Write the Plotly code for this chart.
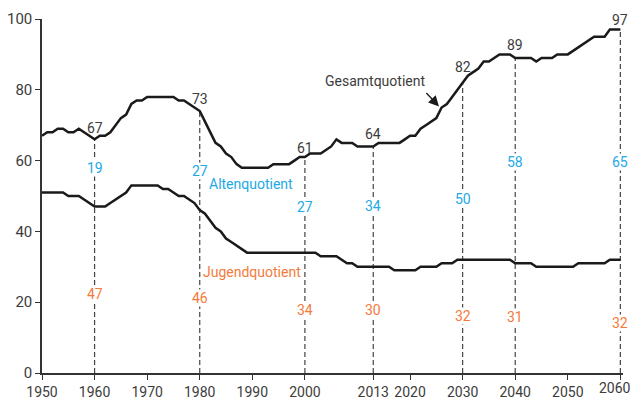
import plotly.graph_objects as go

# ---------------- data ----------------
years = list(range(1950, 2061))

gesamt = [
    67, 68, 68, 69, 69, 68, 68, 69, 68, 67,   # 1950-1959
    66, 67, 67, 68, 70, 72, 73, 76, 77, 77,   # 1960-1969
    78, 78, 78, 78, 78, 78, 77, 77, 76, 75,   # 1970-1979
    74, 71, 68, 65, 64, 62, 61, 59, 58, 58,   # 1980-1989
    58, 58, 58, 58, 59, 59, 59, 59, 60, 61,   # 1990-1999
    61, 62, 62, 62, 63, 64, 66, 65, 65, 65,   # 2000-2009
    64, 64, 64, 64, 65, 65, 65, 65, 65, 66,   # 2010-2019
    67, 67, 69, 70, 71, 72, 75, 76, 78, 80,   # 2020-2029
    82, 84, 85, 86, 88, 88, 89, 90, 90, 90,   # 2030-2039
    89, 89, 89, 89, 88, 89, 89, 89, 90, 90,   # 2040-2049
    90, 91, 92, 93, 94, 95, 95, 95, 97, 97,   # 2050-2059
    97,                                       # 2060
]

jugend = [
    51, 51, 51, 51, 51, 50, 50, 50, 49, 48,   # 1950-1959
    47, 47, 47, 48, 49, 50, 51, 53, 53, 53,   # 1960-1969
    53, 53, 53, 52, 52, 51, 50, 50, 49, 48,   # 1970-1979
    46, 45, 43, 41, 40, 38, 37, 36, 35, 34,   # 1980-1989
    34, 34, 34, 34, 34, 34, 34, 34, 34, 34,   # 1990-1999
    34, 34, 34, 33, 33, 33, 33, 32, 31, 31,   # 2000-2009
    30, 30, 30, 30, 30, 30, 30, 29, 29, 29,   # 2010-2019
    29, 29, 30, 30, 30, 30, 31, 31, 31, 32,   # 2020-2029
    32, 32, 32, 32, 32, 32, 32, 32, 32, 32,   # 2030-2039
    31, 31, 31, 31, 30, 30, 30, 30, 30, 30,   # 2040-2049
    30, 30, 31, 31, 31, 31, 31, 31, 32, 32,   # 2050-2059
    32,                                       # 2060
]

marked_years = [1960, 1980, 2000, 2013, 2030, 2040, 2060]
gesamt_labels = [67, 73, 61, 64, 82, 89, 97]
alten_labels = [19, 27, 27, 34, 50, 58, 65]
jugend_labels = [47, 46, 34, 30, 32, 31, 32]

# label placement (y in data units)
gesamt_label_y = [69.3, 77.5, 63.6, 67.6, 86.5, 92.7, 99.8]
alten_label_y = [57.9, 57.2, 47.0, 47.2, 49.2, 59.7, 59.7]
jugend_label_y = [22.4, 21.3, 17.9, 17.9, 16.1, 15.8, 14.1]

x_tickvals = [1950, 1960, 1970, 1980, 1990, 2000, 2013, 2020, 2030, 2040, 2050, 2060]
x_ticktext = ["1950", "1960", "1970", "1980", "1990", "2000", "2013", "2020", "2030", "2040", "2050", "2060"]
y_tickvals = [0, 20, 40, 60, 80, 100]

# ---------------- style ----------------
FONT = "Roboto, Liberation Sans, sans-serif"
DARK = "#3c3c3c"
BLUE = "#22a9e6"
ORANGE = "#f47a3c"


def f(size, color):
    return dict(family=FONT, size=size, color=color)


fig = go.Figure()
fig.add_trace(go.Scatter(x=years, y=gesamt, mode="lines",
                         line=dict(color="#1a1a1a", width=2.5), hoverinfo="skip"))
fig.add_trace(go.Scatter(x=years, y=jugend, mode="lines",
                         line=dict(color="#1a1a1a", width=2.5), hoverinfo="skip"))

# dashed verticals
for yr in marked_years:
    top = gesamt[years.index(yr)]
    fig.add_shape(type="line", xref="x", yref="y", x0=yr, x1=yr, y0=0, y1=top,
                  line=dict(color="#444444", width=1.2, dash="5px,3px"), layer="below")

annotations = []
for yr, g, gy, a, ay_, j, jy in zip(marked_years, gesamt_labels, gesamt_label_y,
                                     alten_labels, alten_label_y, jugend_labels, jugend_label_y):
    annotations.append(dict(x=yr, y=gy, text=str(g), showarrow=False, font=f(14, DARK)))
    annotations.append(dict(x=yr, y=ay_, text=str(a), showarrow=False, bgcolor="white",
                            borderpad=0, font=f(14, BLUE)))
    annotations.append(dict(x=yr, y=jy, text=str(j), showarrow=False, bgcolor="white",
                            borderpad=0, font=f(14, ORANGE)))

annotations += [
    dict(x=1989.8, y=53.3, text="Altenquotient", showarrow=False, font=f(14, BLUE)),
    dict(x=1990.0, y=28.6, text="Jugendquotient", showarrow=False, font=f(14, ORANGE)),
    dict(x=2013.3, y=82.4, text="Gesamtquotient", showarrow=False, font=f(14, DARK)),
    dict(x=2025.5, y=75.3, text="", showarrow=True, ax=-14, ay=-15,
         arrowhead=2, arrowsize=1.6, arrowwidth=1.3, arrowcolor="#1a1a1a"),
    # last x tick label, nudged left so it stays inside the picture (as in the reference)
    dict(x=x_tickvals[-1], y=0, xref="x", yref="y", text=x_ticktext[-1], showarrow=False,
         xanchor="center", yanchor="top", xshift=-5, yshift=-6, borderpad=0,
         font=f(14, DARK)),
]

fig.update_layout(
    width=632, height=400,
    margin=dict(l=42, r=9, t=19, b=27, autoexpand=False),
    paper_bgcolor="white", plot_bgcolor="white",
    showlegend=False,
    annotations=annotations,
    font=f(14, DARK),
    xaxis=dict(range=[1950, 2060.5], tickvals=x_tickvals,
               ticktext=x_ticktext[:-1] + [""],
               tickangle=0, automargin=False,
               showgrid=False, zeroline=False, showline=True, linecolor="#333333", linewidth=1.5,
               ticks="outside", ticklen=5, tickwidth=1.3, tickcolor="#333333",
               tickfont=f(14, DARK), fixedrange=True),
    yaxis=dict(range=[0, 100], tickvals=y_tickvals, automargin=False,
               showgrid=False, zeroline=False,
               showline=True, linecolor="#333333", linewidth=1.5,
               ticks="outside", ticklen=5, tickwidth=1.3, tickcolor="#333333",
               tickfont=f(15, DARK), fixedrange=True),
)

fig.write_html("out.html", config={"displayModeBar": False},
               post_script="document.body.style.margin='0px';")
